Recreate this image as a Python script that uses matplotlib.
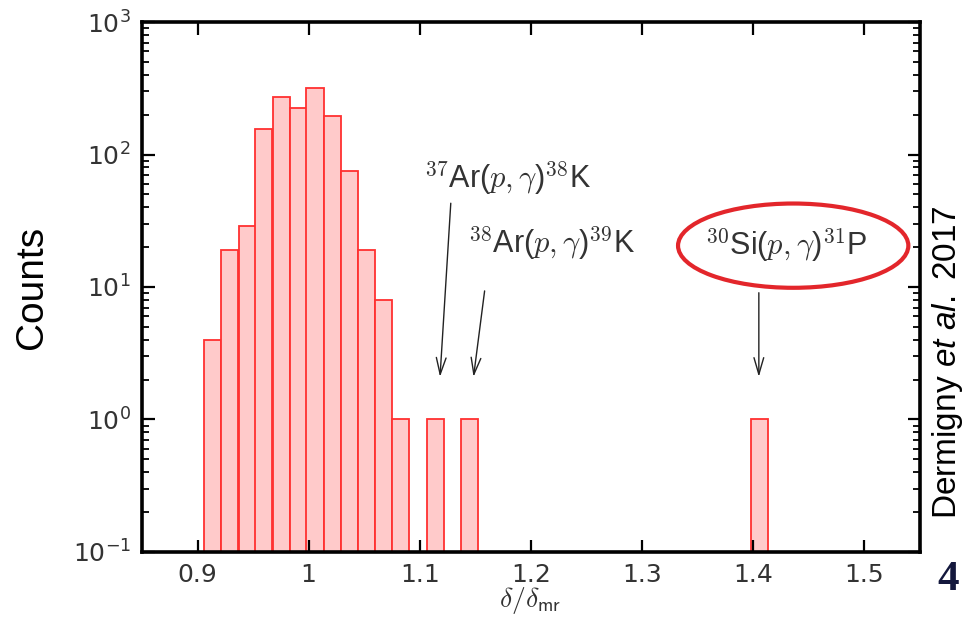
import numpy as np
import matplotlib
matplotlib.use("Agg")
import matplotlib.pyplot as plt
from matplotlib.patches import Ellipse

# histogram (left bin edges and counts)
bin_left = [0.906, 0.921, 0.937, 0.952, 0.968, 0.983, 0.998, 1.014,
            1.029, 1.044, 1.060, 1.075, 1.106, 1.137, 1.398]
counts = [4, 19, 29, 155, 270, 225, 315, 195, 75, 19, 8, 1, 1, 1, 1]
bin_width = 0.0154

x_ticks = [0.9, 1.0, 1.1, 1.2, 1.3, 1.4, 1.5]
x_ticklabels = ["0.9", "1", "1.1", "1.2", "1.3", "1.4", "1.5"]

# annotations: label, text pos (baseline), arrow start, arrow tip
labels = [r"$^{\mathsf{37}}$Ar($p,\gamma$)$^{\mathsf{38}}$K",
          r"$^{\mathsf{38}}$Ar($p,\gamma$)$^{\mathsf{39}}$K",
          r"$^{\mathsf{30}}$Si($p,\gamma$)$^{\mathsf{31}}$P"]
label_xy = [(1.179, 56), (1.2185, 18.1), (1.430, 17.4)]
arrow_from = [(1.128, 45), (1.1586, 9.8), (1.405, 9.5)]
arrow_to = [(1.118, 2.0), (1.148, 2.0), (1.405, 2.0)]

plt.rcParams["font.family"] = ["DejaVu Sans"]
plt.rcParams["mathtext.fontset"] = "cm"
plt.rcParams["mathtext.rm"] = "Liberation Sans"
plt.rcParams["mathtext.it"] = "Liberation Sans:italic"

fig = plt.figure(figsize=(9.75, 6.2), dpi=100)
ax = fig.add_axes([0.1456, 0.1097, 0.7980, 0.8548])

ax.bar(bin_left, counts, width=bin_width, align="edge",
       facecolor="#ffcaca", edgecolor="#ff3030", linewidth=1.3)

ax.set_yscale("log")
ax.set_ylim(0.1, 1000)
ax.set_xlim(0.85, 1.55)
ax.set_xticks(x_ticks)
ax.set_xticklabels(x_ticklabels)

for s in ax.spines.values():
    s.set_linewidth(2.6)
ax.tick_params(which="both", direction="in", top=True, right=True,
               labelsize=18, labelcolor="#333333", pad=8)
ax.tick_params(which="major", length=9, width=1.6)
ax.tick_params(which="minor", length=5, width=1.3)
ax.tick_params(axis="x", which="minor", bottom=False, top=False)

ax.set_ylabel("Counts", fontsize=28, family="Liberation Sans", labelpad=16)
ax.set_xlabel(r"$\delta/\delta_{\mathsf{mr}}$", fontsize=20, color="#333333", va="center")
ax.xaxis.set_label_coords(0.499, -0.091)

for lab, xy, a0, a1 in zip(labels, label_xy, arrow_from, arrow_to):
    ax.text(xy[0], xy[1], lab, fontsize=22, color="#333333", ha="center", va="baseline",
            family="Liberation Sans")
    ax.annotate("", xy=a1, xytext=a0,
                arrowprops=dict(arrowstyle="->,head_length=1.2,head_width=0.35",
                                color="#222222", lw=1.0))

ax.add_patch(Ellipse((0.837, 0.578), 0.296, 0.159, transform=ax.transAxes,
                     fill=False, edgecolor="#e3262b", linewidth=3, clip_on=False))

fig.text(0.972, 0.416, r"Dermigny $\it{et\ al.}$ 2017", rotation=90, fontsize=24,
         ha="center", va="center", family="Liberation Sans", math_fontfamily="custom")
fig.text(0.972, 0.064, "4", fontsize=31, fontweight="bold", color="#14183d",
         ha="center", va="center", family="Liberation Serif")

fig.savefig("out.png", dpi=100)
